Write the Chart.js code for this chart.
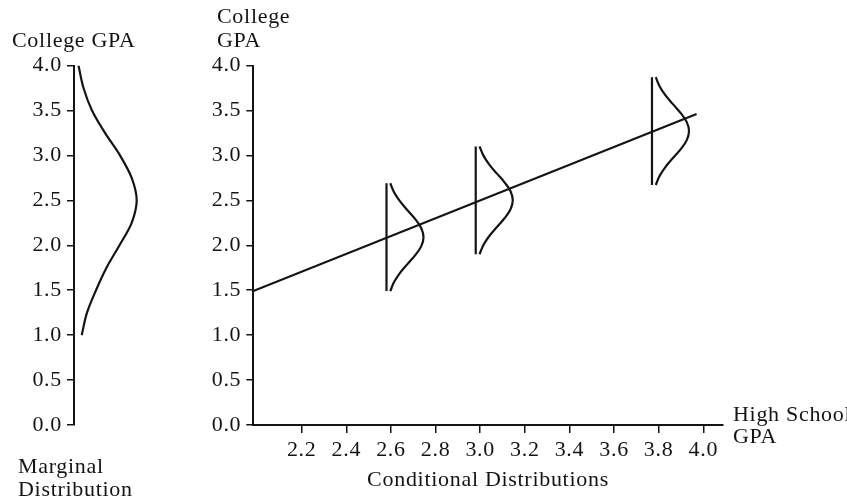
<!DOCTYPE html>
<html>
<head>
<meta charset="utf-8">
<script src="https://cdn.jsdelivr.net/npm/chart.js@4.4.1/dist/chart.umd.min.js"></script>
<style>
  html, body { margin: 0; padding: 0; background: #fff; }
  #wrap { position: relative; width: 847px; height: 500px; }
  #wrap canvas { position: absolute; left: 0; top: 0; }
</style>
</head>
<body>
<div id="wrap">
  <canvas id="marginalChart" width="847" height="500"></canvas>
  <canvas id="conditionalChart" width="847" height="500"></canvas>
</div>
<script>
// tick labels
const collegeTicks = [0, 0.5, 1, 1.5, 2, 2.5, 3, 3.5, 4];
const highSchoolTicks = [2.2, 2.4, 2.6, 2.8, 3.0, 3.2, 3.4, 3.6, 3.8, 4.0];

// marginal distribution of college GPA
const marginalGpa = [4.0, 3.75, 3.5, 3.25, 3.0, 2.75, 2.5, 2.25, 2.0, 1.75, 1.5, 1.25, 1.0];
const marginalDensity = [0.045, 0.095, 0.18, 0.31, 0.46, 0.577, 0.627, 0.577, 0.455, 0.325, 0.22, 0.13, 0.077];

// regression line end points
const lineHsGpa = [1.983, 3.97];
const lineCollegeGpa = [1.49, 3.46];

// conditional distributions: where they stand and their centre
const condHsGpa = [2.58, 2.98, 3.77];
const condCenter = [2.09, 2.50, 3.27];
// shape of each conditional curve (offset in college GPA, width in high school GPA)
const condOffset = [-0.6, -0.5, -0.4, -0.3, -0.2, -0.1, 0, 0.1, 0.2, 0.3, 0.4, 0.5, 0.6];
const condWidth = [0.017, 0.034, 0.06, 0.094, 0.129, 0.156, 0.166, 0.156, 0.129, 0.094, 0.06, 0.034, 0.017];

const ink = '#141414';
const serif = "'Liberation Serif', 'Times New Roman', serif";
const tickFont = { family: serif, size: 22 };

const freeText = {
  id: 'freeText',
  beforeDraw(chart) {
    chart.ctx.letterSpacing = '0.7px';
  },
  afterDraw(chart) {
    const items = chart.config.options.textItems || [];
    const ctx = chart.ctx;
    ctx.save();
    ctx.font = '22px ' + serif;
    ctx.fillStyle = ink;
    ctx.textBaseline = 'alphabetic';
    ctx.textAlign = 'left';
    items.forEach(t => ctx.fillText(t.text, t.x, t.y));
    ctx.restore();
  }
};

function yAxis(width) {
  return {
    type: 'linear',
    min: 0,
    max: 4,
    afterBuildTicks: s => { s.ticks = collegeTicks.map(v => ({ value: v })); },
    afterFit: s => { s.width = width; },
    ticks: { callback: v => v.toFixed(1), font: tickFont, color: ink, padding: 5 },
    grid: { drawOnChartArea: false, drawTicks: true, tickLength: 7, color: ink, lineWidth: 1.5 },
    border: { display: true, color: ink, width: 2 }
  };
}

const curve = { borderColor: ink, borderWidth: 2.2, pointRadius: 0, fill: false };

new Chart(document.getElementById('marginalChart'), {
  type: 'line',
  data: {
    datasets: [{
      ...curve,
      cubicInterpolationMode: 'monotone',
      data: marginalGpa.map((g, i) => ({ x: marginalDensity[i], y: g }))
    }]
  },
  options: {
    indexAxis: 'y',
    responsive: false,
    animation: false,
    layout: { padding: { left: 0, right: 673, top: 65.5, bottom: 75 } },
    plugins: { legend: { display: false }, tooltip: { enabled: false } },
    scales: {
      x: { type: 'linear', display: false, min: 0, max: 1 },
      y: yAxis(74)
    },
    textItems: [
      { text: 'College GPA', x: 12, y: 47 },
      { text: 'Marginal', x: 18, y: 473 },
      { text: 'Distribution', x: 18, y: 496 }
    ]
  },
  plugins: [freeText]
});

const condDatasets = [{
  ...curve,
  data: lineHsGpa.map((h, i) => ({ x: h, y: lineCollegeGpa[i] }))
}];
condHsGpa.forEach((h, k) => {
  condDatasets.push({
    ...curve,
    data: [{ x: h, y: condCenter[k] + condOffset[condOffset.length - 1] }, { x: h, y: condCenter[k] + condOffset[0] }]
  });
  condDatasets.push({
    ...curve,
    tension: 0.4,
    data: condOffset.map((o, i) => ({ x: h + condWidth[i], y: condCenter[k] + o }))
  });
});

new Chart(document.getElementById('conditionalChart'), {
  type: 'line',
  data: { datasets: condDatasets },
  options: {
    responsive: false,
    animation: false,
    layout: { padding: { left: 0, right: 124.3, top: 65.5, bottom: 0 } },
    plugins: { legend: { display: false }, tooltip: { enabled: false } },
    scales: {
      x: {
        type: 'linear',
        min: 1.983,
        max: 4.087,
        afterBuildTicks: s => { s.ticks = highSchoolTicks.map(v => ({ value: v })); },
        afterFit: s => { s.height = 75; },
        ticks: { callback: v => v.toFixed(1), font: tickFont, color: ink, padding: 4, maxRotation: 0, autoSkip: false },
        grid: { drawOnChartArea: false, drawTicks: true, tickLength: 8, color: ink, lineWidth: 1.5 },
        border: { display: true, color: ink, width: 2 },
        title: { display: true, text: 'Conditional Distributions', font: tickFont, color: ink, padding: { top: 0, bottom: 7 } }
      },
      y: yAxis(253.3)
    },
    textItems: [
      { text: 'College', x: 217, y: 23 },
      { text: 'GPA', x: 217, y: 47 },
      { text: 'High School', x: 733, y: 421 },
      { text: 'GPA', x: 733, y: 443 }
    ]
  },
  plugins: [freeText]
});
</script>
</body>
</html>
